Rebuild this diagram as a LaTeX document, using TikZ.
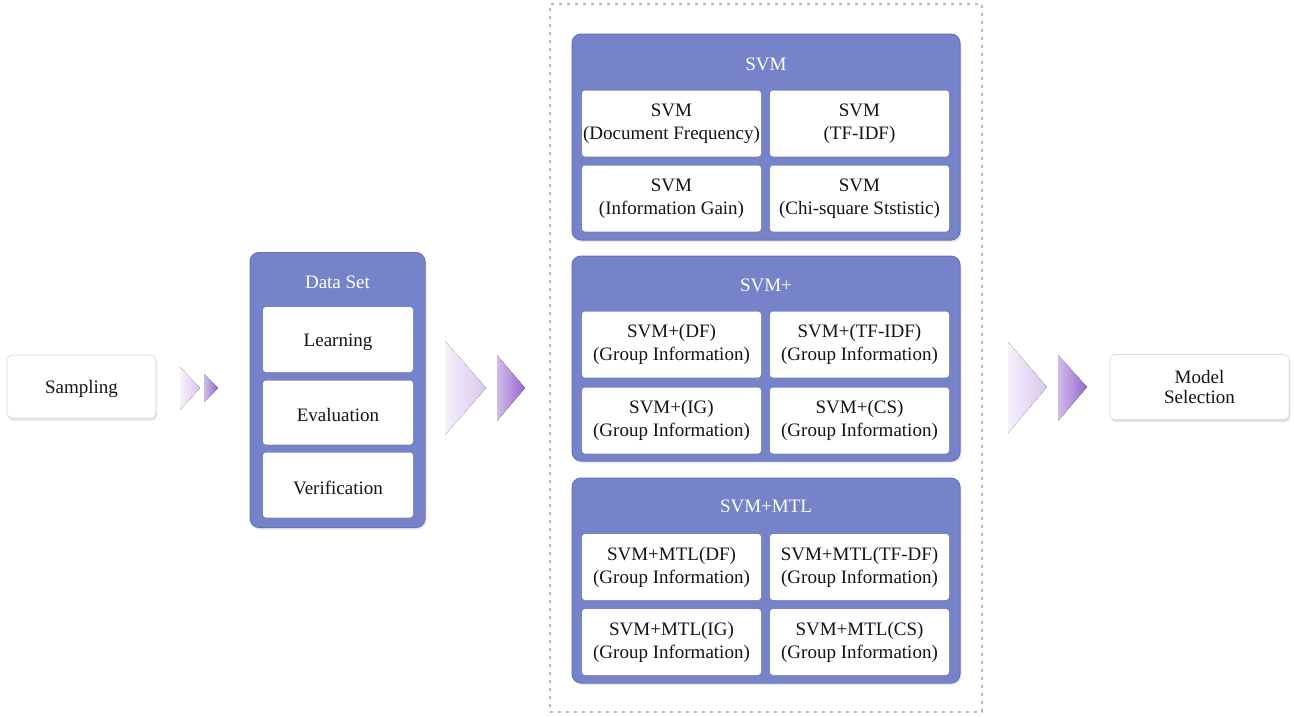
\documentclass[tikz,border=0pt]{standalone}
\usepackage{fontspec}
\setmainfont{Liberation Serif}
\usetikzlibrary{shadows}

\definecolor{grp}{HTML}{7683C8}
\definecolor{grpline}{HTML}{6573BE}
\definecolor{cardline}{HTML}{DADADA}
\definecolor{paleA}{HTML}{F6F0FB}
\definecolor{paleB}{HTML}{D9C6EE}
\definecolor{deepA}{HTML}{D2BBEC}
\definecolor{deepB}{HTML}{9366CC}
\definecolor{dashgray}{HTML}{B8B8B8}

\tikzset{
  txt/.style={font=\fontsize{19}{23}\selectfont, align=center, text=black!92},
  lowered/.style={execute at begin node={\rule{0pt}{19pt}}},
  card/.style={txt, draw=cardline, line width=0.6pt, fill=white, rounded corners=5pt,
    inner sep=0pt, drop shadow={opacity=0.22, shadow xshift=1pt, shadow yshift=-2.5pt}},
  group/.style={draw=grpline, line width=1pt, fill=grp, rounded corners=9pt, inner sep=0pt,
    drop shadow={opacity=0.18, shadow xshift=1.5pt, shadow yshift=-2pt}},
  cell/.style={txt, lowered, fill=white, rounded corners=3pt, inner sep=0pt,
    minimum width=179pt, minimum height=66pt,
    drop shadow={opacity=0.2, shadow xshift=0.8pt, shadow yshift=-1.2pt}},
  dcell/.style={cell, minimum width=150pt},
  title/.style={txt, text=white},
  pale/.style={left color=paleA, right color=paleB, draw=none},
  deep/.style={left color=deepA, right color=deepB, draw=none},
}

\begin{document}
\begin{tikzpicture}[x=1pt, y=-1pt]
\useasboundingbox (0,0) rectangle (1294,716);

% input and output cards
\node[card, lowered, minimum width=149pt, minimum height=63pt] (sampling) at (81.5,386.5) {Sampling};
\node[card, font=\fontsize{19}{20.5}\selectfont, minimum width=179pt, minimum height=65pt]
  (model) at (1199.5,387) {Model\\Selection};

% data set group
\node[group, minimum width=175pt, minimum height=275pt] (data) at (337.5,390) {};
\node[title] (datatitle) at (337.5,282) {Data Set};
\node[dcell, minimum height=65pt] (learn) at (338,339.5) {Learning};
\node[dcell, minimum height=64pt] (eval) at (338,412.5) {Evaluation};
\node[dcell, minimum height=65pt] (verif) at (338,485) {Verification};

% frame around the model families
\node[draw=dashgray, line width=2.2pt, dash pattern=on 3pt off 5pt,
      minimum width=432pt, minimum height=708pt, inner sep=0pt] (frame) at (766,358) {};

% SVM family
\node[group, minimum width=388pt, minimum height=206pt] (svm) at (766,137) {};
\node[title] (svmtitle) at (766,64.5) {SVM};
\node[cell] (svmdf) at (671.5,123.5) {SVM\\(Document Frequency)};
\node[cell] (svmtf) at (859.5,123.5) {SVM\\(TF-IDF)};
\node[cell] (svmig) at (671.5,198.5) {SVM\\(Information Gain)};
\node[cell] (svmcs) at (859.5,198.5) {SVM\\(Chi-square Ststistic)};

% SVM+ family
\node[group, minimum width=388pt, minimum height=205pt] (plus) at (766,358.5) {};
\node[title] (plustitle) at (766,285.5) {SVM+};
\node[cell] (plusdf) at (671.5,344.5) {SVM+(DF)\\(Group Information)};
\node[cell] (plustf) at (859.5,344.5) {SVM+(TF-IDF)\\(Group Information)};
\node[cell] (plusig) at (671.5,420.5) {SVM+(IG)\\(Group Information)};
\node[cell] (pluscs) at (859.5,420.5) {SVM+(CS)\\(Group Information)};

% SVM+MTL family
\node[group, minimum width=388pt, minimum height=205pt] (mtl) at (766,580.5) {};
\node[title] (mtltitle) at (766,506.5) {SVM+MTL};
\node[cell] (mtldf) at (671.5,567) {SVM+MTL(DF)\\(Group Information)};
\node[cell] (mtltf) at (859.5,567) {SVM+MTL(TF-DF)\\(Group Information)};
\node[cell] (mtlig) at (671.5,642) {SVM+MTL(IG)\\(Group Information)};
\node[cell] (mtlcs) at (859.5,642) {SVM+MTL(CS)\\(Group Information)};

% chevrons between the stages
\fill[pale] (180,367) -- (200,388) -- (180,410) -- cycle;
\fill[deep] (204,374) -- (218,388) -- (204,402) -- cycle;

\fill[pale] (445,341) -- (486,388) -- (445,435) -- cycle;
\fill[deep] (497,355) -- (525,388) -- (497,421) -- cycle;

\fill[pale] (1008,342) -- (1047,387) -- (1008,433) -- cycle;
\fill[deep] (1058,355) -- (1087,387) -- (1058,421) -- cycle;
\end{tikzpicture}
\end{document}
